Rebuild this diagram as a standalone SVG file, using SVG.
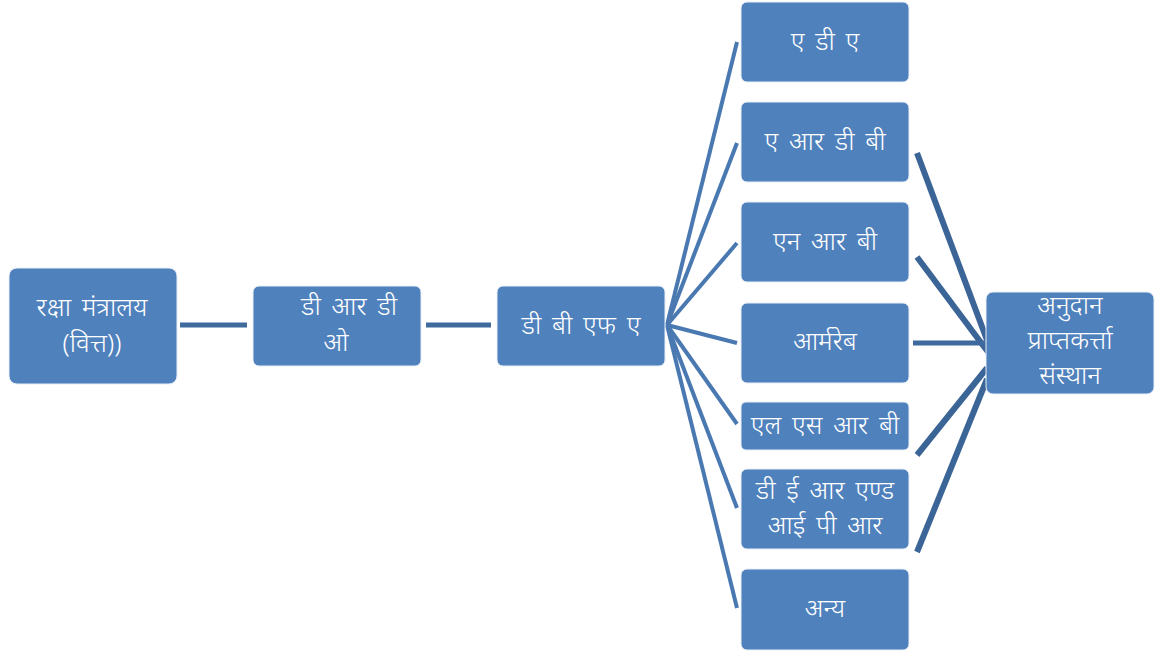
<svg xmlns="http://www.w3.org/2000/svg" width="1170" height="653" viewBox="0 0 1170 653">
<style>
.box{fill:#4f81bd;stroke:#e8eef6;stroke-width:1}
.t{fill:#ffffff;font-family:"Noto Sans","Lohit Devanagari","Mangal","DejaVu Sans",sans-serif;font-size:26px;font-weight:300;word-spacing:4px;text-anchor:middle}
.fan{stroke:#4a79b2;stroke-width:4;fill:none}
.dk{stroke:#3b6497;stroke-width:6;fill:none}
.lk{stroke:#3f6a9e;stroke-width:5;fill:none}
</style>
<rect width="1170" height="653" fill="#ffffff"/>
<g id="connectors">
<line class="lk" x1="180" y1="325" x2="247" y2="325"/>
<line class="lk" x1="426" y1="325" x2="491" y2="325"/>
<line class="fan" x1="667" y1="325" x2="737" y2="42"/>
<line class="fan" x1="667" y1="325" x2="737" y2="143"/>
<line class="fan" x1="667" y1="325" x2="737" y2="243"/>
<line class="fan" x1="667" y1="325" x2="737" y2="343"/>
<line class="fan" x1="667" y1="325" x2="737" y2="424"/>
<line class="fan" x1="667" y1="325" x2="737" y2="508"/>
<line class="fan" x1="667" y1="325" x2="737" y2="608"/>
<line class="dk" x1="917" y1="153" x2="987" y2="340"/>
<line class="dk" x1="917" y1="257" x2="988" y2="352"/>
<line class="lk" x1="913" y1="343" x2="986" y2="343"/>
<line class="dk" x1="917" y1="455" x2="987" y2="368"/>
<line class="dk" x1="917" y1="552" x2="987" y2="379"/>
</g>
<g id="n-raksha">
<rect class="box" x="9" y="268" width="168" height="116" rx="8"/>
<text class="t" x="92" y="316">रक्षा मंत्रालय</text>
<text class="t" x="92" y="352">(वित्त))</text>
</g>
<g id="n-drdo">
<rect class="box" x="253" y="286" width="168" height="80" rx="6"/>
<text class="t" x="349" y="315">डी आर डी</text>
<text class="t" x="336" y="351">ओ</text>
</g>
<g id="n-dbfa">
<rect class="box" x="497" y="286" width="168" height="80" rx="6"/>
<text class="t" x="581" y="334">डी बी एफ ए</text>
</g>
<g id="n-ada">
<rect class="box" x="741" y="2" width="168" height="80" rx="6"/>
<text class="t" x="825" y="50">ए डी ए</text>
</g>
<g id="n-ardb">
<rect class="box" x="741" y="102" width="168" height="80" rx="6"/>
<text class="t" x="825" y="150">ए आर डी बी</text>
</g>
<g id="n-nrb">
<rect class="box" x="741" y="202" width="168" height="80" rx="6"/>
<text class="t" x="825" y="250">एन आर बी</text>
</g>
<g id="n-armrb">
<rect class="box" x="741" y="303" width="168" height="80" rx="6"/>
<text class="t" x="825" y="350">आर्मरेब</text>
</g>
<g id="n-lsrb">
<rect class="box" x="741" y="402" width="168" height="48" rx="5"/>
<text class="t" x="825" y="434">एल एस आर बी</text>
</g>
<g id="n-der">
<rect class="box" x="741" y="469" width="168" height="80" rx="6"/>
<text class="t" x="825" y="499">डी ई आर एण्ड</text>
<text class="t" x="825" y="534">आई पी आर</text>
</g>
<g id="n-anya">
<rect class="box" x="741" y="569" width="168" height="81" rx="6"/>
<text class="t" x="825" y="617">अन्य</text>
</g>
<g id="n-anudan">
<rect class="box" x="986" y="292" width="168" height="102" rx="7"/>
<text class="t" x="1070" y="314">अनुदान</text>
<text class="t" x="1070" y="349">प्राप्तकर्त्ता</text>
<text class="t" x="1070" y="384">संस्थान</text>
</g>
</svg>
